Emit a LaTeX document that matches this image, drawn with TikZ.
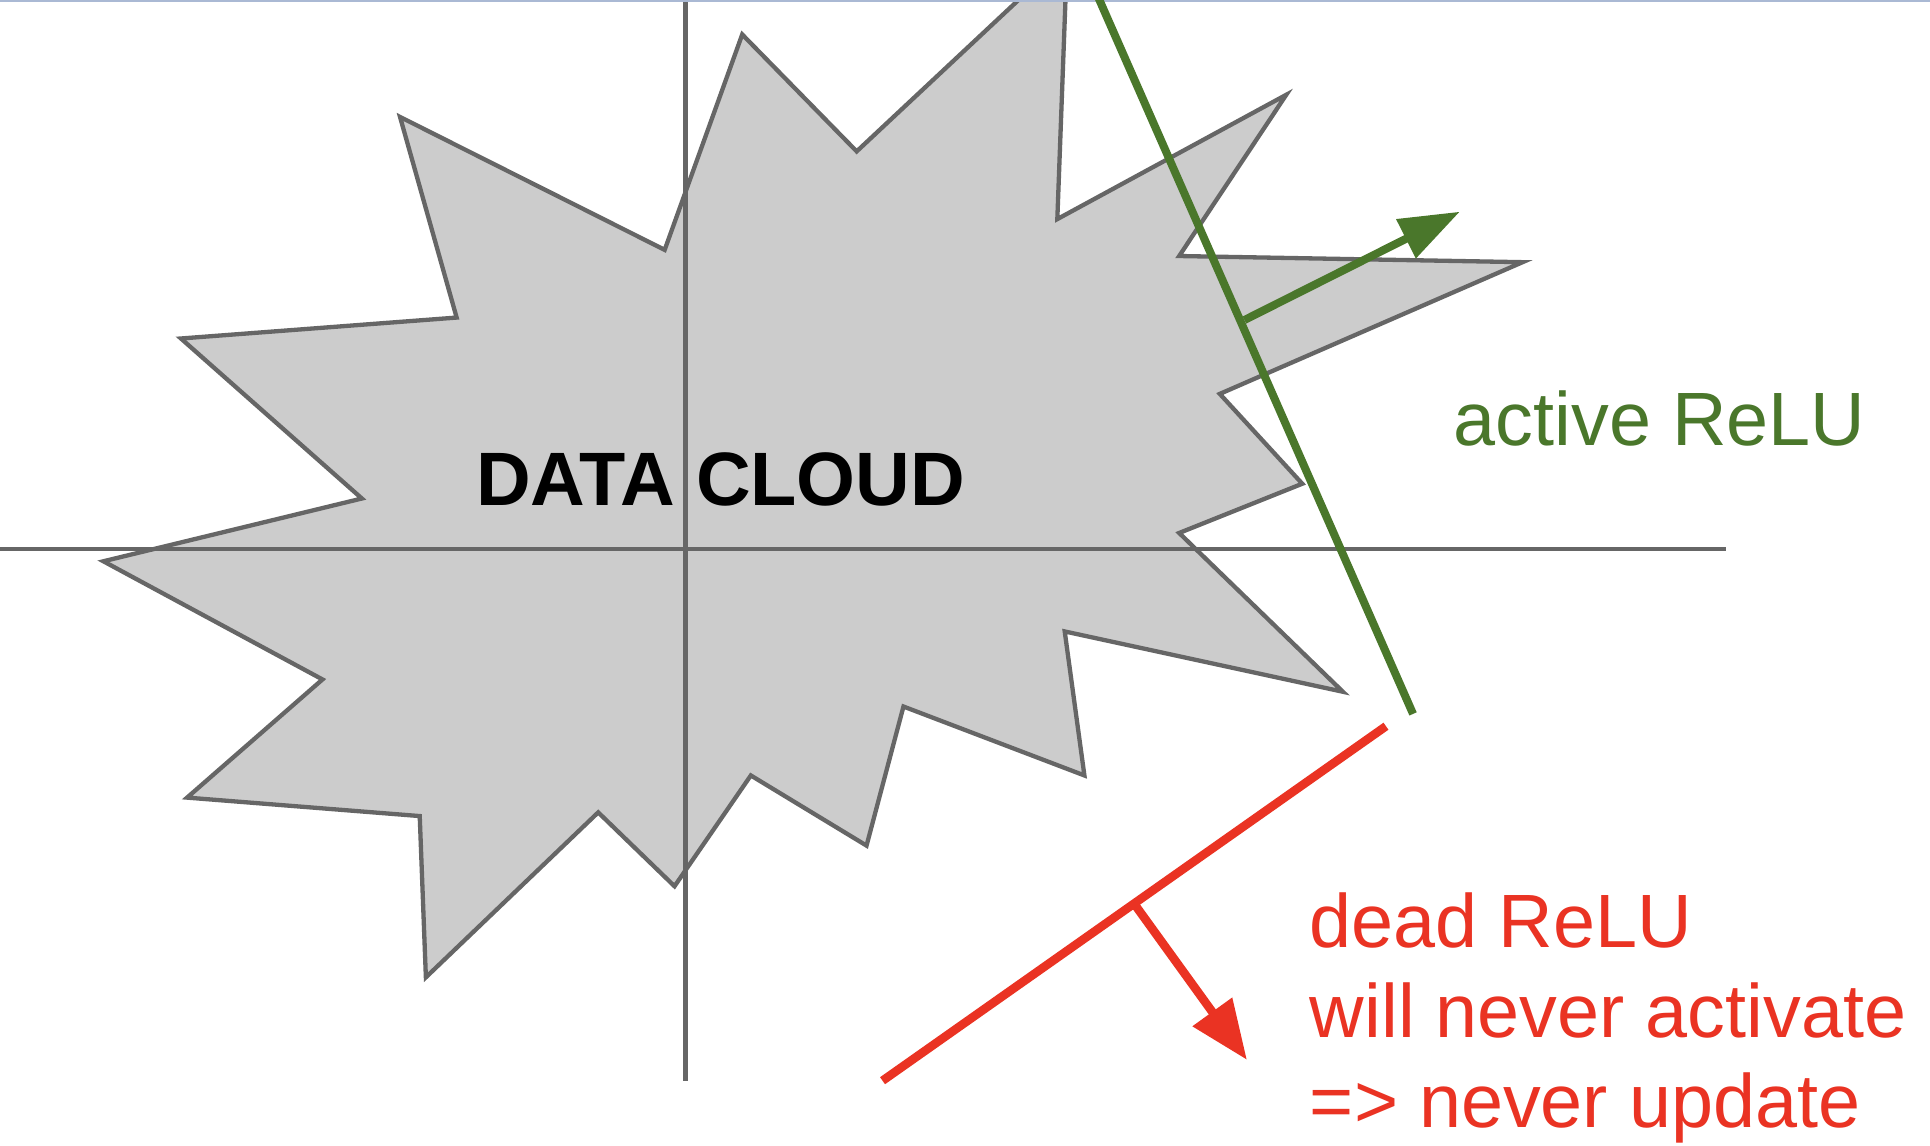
\documentclass[tikz,border=0pt]{standalone}
\usepackage{fontspec}
\setmainfont{Liberation Sans}
\usetikzlibrary{arrows.meta}
\definecolor{cloudfill}{HTML}{CCCCCC}
\definecolor{cloudline}{HTML}{666666}
\definecolor{relugreen}{RGB}{74,119,43}
\definecolor{relured}{RGB}{234,51,35}
\definecolor{topline}{RGB}{170,185,212}
\tikzset{
  cloudshape/.style={fill=cloudfill, draw=cloudline, line width=3.5pt, line join=miter},
  axisline/.style={draw=cloudline, line width=3.8pt},
  greenline/.style={draw=relugreen, line width=6.5pt},
  redline/.style={draw=relured, line width=7pt},
  greenarrow/.style={draw=relugreen, line width=6.5pt, -{Triangle[length=49pt,width=34pt]}},
  redarrow/.style={draw=relured, line width=7pt, -{Triangle[length=48pt,width=38pt]}},
  bigtext/.style={inner sep=0pt, font=\fontsize{61.4}{73}\selectfont}
}
\begin{document}
\begin{tikzpicture}[x=1pt,y=-1pt]
\useasboundingbox (0,0) rectangle (1568,931);
\begin{scope}
\clip (0,0) rectangle (1568,931);
\fill[white] (0,0) rectangle (1568,931);
% data cloud
\path[cloudshape] (867,-37) -- (859,178) -- (1045,77) -- (958,208) -- (1237,213)
  -- (991,320) -- (1058,393) -- (958,433) -- (1091,562) -- (865,513) -- (881,630)
  -- (734,574) -- (704,687) -- (610,630) -- (548,720) -- (486,660) -- (346,794)
  -- (341,663) -- (152,648) -- (262,552) -- (84,456) -- (294,405) -- (147,275)
  -- (371,258) -- (325,95) -- (540,203) -- (603,28) -- (696,123) -- cycle;
% axes
\coordinate (xl) at (0,446);
\coordinate (xr) at (1402,446);
\coordinate (yt) at (557,-5);
\coordinate (yb) at (557,878);
\draw[axisline] (xl) -- (xr);
\draw[axisline] (yt) -- (yb);
% top border line
\coordinate (tl) at (0,0.6);
\coordinate (tr) at (1568,0.6);
\draw[topline, line width=1.3pt] (tl) -- (tr);
\end{scope}
\node[inner sep=0pt, font=\fontsize{61.5}{70}\selectfont\bfseries, anchor=base] (cloud) at (585.5,411) {DATA CLOUD};
% active ReLU
\begin{scope}
\clip (0,0) rectangle (1568,931);
\coordinate (gA) at (891,-5);
\coordinate (gB) at (1148,580);
\draw[greenline] (gA) -- (gB);
\end{scope}
\coordinate (gS) at (1011,260);
\coordinate (gT) at (1186,172);
\draw[greenarrow] (gS) -- (gT);
\node[bigtext, text=relugreen, anchor=base west] (active) at (1181,362) {active ReLU};
% dead ReLU
\coordinate (rA) at (717,878);
\coordinate (rB) at (1126,590);
\draw[redline] (rA) -- (rB);
\coordinate (rS) at (922,735);
\coordinate (rT) at (1013,861);
\draw[redarrow] (rS) -- (rT);
\node[bigtext, text=relured, anchor=base west] (dead1) at (1064,770) {dead ReLU};
\node[bigtext, text=relured, anchor=base west] (dead2) at (1064,843) {will never activate};
\node[bigtext, text=relured, anchor=base west] (dead3) at (1064,916) {=> never update};
\end{tikzpicture}
\end{document}
